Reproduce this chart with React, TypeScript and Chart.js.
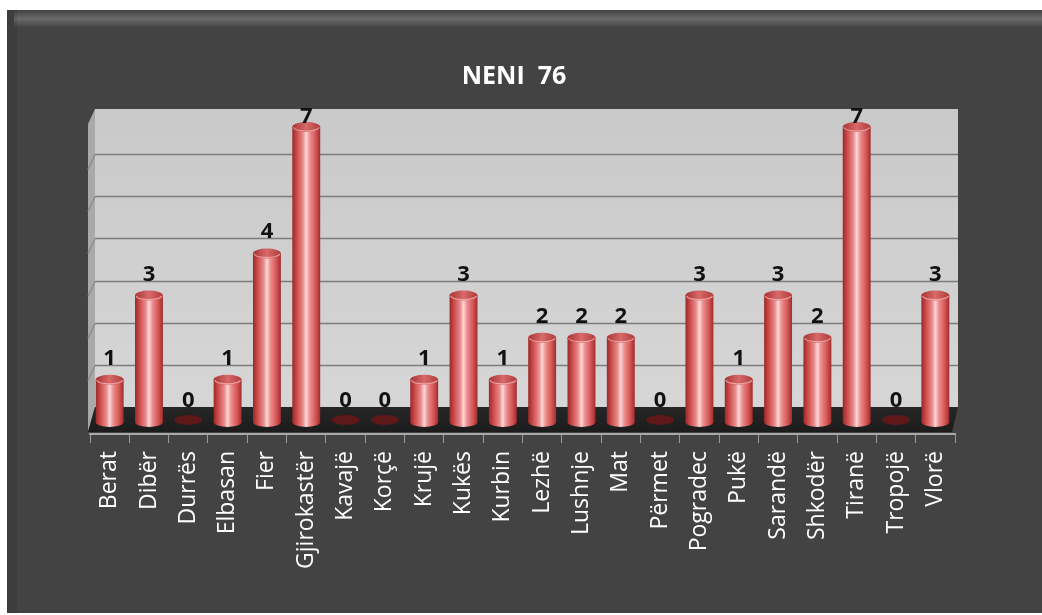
import React, { useEffect, useRef } from 'react';
import { Chart, registerables } from 'chart.js';

Chart.register(...registerables);

const categories = ['Berat', 'Dibër', 'Durrës', 'Elbasan', 'Fier', 'Gjirokastër', 'Kavajë', 'Korçë', 'Krujë', 'Kukës', 'Kurbin', 'Lezhë', 'Lushnje', 'Mat', 'Përmet', 'Pogradec', 'Pukë', 'Sarandë', 'Shkodër', 'Tiranë', 'Tropojë', 'Vlorë'];
const values = [1, 3, 0, 1, 4, 7, 0, 0, 1, 3, 1, 2, 2, 2, 0, 3, 1, 3, 2, 7, 0, 3];
const gridValues = [1, 2, 3, 4, 5, 6];
const chartTitle = 'NENI  76';

const W = 1042;
const H = 615;
const DEPTH_X = 7;
const DEPTH_Y = 15;
const CAP_RY = 5;

function bodyGradient(ctx: CanvasRenderingContext2D, cx: number, w: number) {
  const g = ctx.createLinearGradient(cx - w / 2, 0, cx + w / 2, 0);
  g.addColorStop(0, '#9a2828');
  g.addColorStop(0.15, '#c94848');
  g.addColorStop(0.38, '#ea8a8a');
  g.addColorStop(0.5, '#fbd8d8');
  g.addColorStop(0.62, '#ee9090');
  g.addColorStop(0.85, '#d25252');
  g.addColorStop(1, '#9e2c2c');
  return g;
}

const backgroundPlugin = {
  id: 'bg3d',
  beforeDraw(chart: any) {
    const ctx: CanvasRenderingContext2D = chart.ctx;
    const { left, right, bottom } = chart.chartArea;
    const ys = chart.scales.y;
    ctx.save();
    ctx.fillStyle = '#ffffff';
    ctx.fillRect(0, 0, W, H);
    // dark panel
    ctx.fillStyle = '#434343';
    ctx.fillRect(7, 10, W - 7, 603);
    // top bevel
    const bev = ctx.createLinearGradient(0, 11, 0, 27);
    bev.addColorStop(0, '#474747');
    bev.addColorStop(0.5, '#6a6a6a');
    bev.addColorStop(1, '#454545');
    ctx.fillStyle = bev;
    ctx.fillRect(14, 11, W - 14, 16);
    // left darker strip
    ctx.fillStyle = 'rgba(0,0,0,0.08)';
    ctx.fillRect(7, 10, 10, 603);

    const zeroY = ys.getPixelForValue(0);
    const backFloorY = zeroY - DEPTH_Y;
    const frontFloorY = bottom - 2;
    const wallTop = ys.getPixelForValue(7) - 18;
    const fl = left - 2;
    const wl = fl + DEPTH_X;
    const wr = right + 3;

    // back wall
    const wg = ctx.createLinearGradient(0, wallTop, 0, backFloorY);
    wg.addColorStop(0, '#c9c9c9');
    wg.addColorStop(1, '#d6d6d6');
    ctx.fillStyle = wg;
    ctx.fillRect(wl, wallTop, wr - wl, backFloorY - wallTop);

    // left wall
    ctx.fillStyle = '#a9a9a9';
    ctx.beginPath();
    ctx.moveTo(fl, frontFloorY);
    ctx.lineTo(fl, wallTop + DEPTH_Y);
    ctx.lineTo(wl, wallTop);
    ctx.lineTo(wl, backFloorY);
    ctx.closePath();
    ctx.fill();

    // gridlines
    ctx.lineWidth = 1.5;
    gridValues.forEach((v) => {
      const y = Math.round(ys.getPixelForValue(v) - DEPTH_Y) + 0.5;
      ctx.strokeStyle = '#7c7c7c';
      ctx.beginPath();
      ctx.moveTo(wl, y);
      ctx.lineTo(wr, y);
      ctx.stroke();
      ctx.strokeStyle = '#8e8e8e';
      ctx.beginPath();
      ctx.moveTo(fl, y + DEPTH_Y);
      ctx.lineTo(wl, y);
      ctx.stroke();
    });

    // floor
    const fg = ctx.createLinearGradient(0, backFloorY, 0, frontFloorY);
    fg.addColorStop(0, '#262626');
    fg.addColorStop(1, '#1c1c1c');
    ctx.fillStyle = fg;
    ctx.beginPath();
    ctx.moveTo(fl, frontFloorY);
    ctx.lineTo(right - 3, frontFloorY);
    ctx.lineTo(wr, backFloorY);
    ctx.lineTo(wl, backFloorY);
    ctx.closePath();
    ctx.fill();

    // title
    ctx.fillStyle = '#ffffff';
    ctx.font = 'bold 25px "Open Sans"';
    ctx.textAlign = 'center';
    ctx.textBaseline = 'alphabetic';
    ctx.fillText(chartTitle, 514, 84);
    ctx.restore();
  },
  afterDatasetsDraw(chart: any) {
    const ctx: CanvasRenderingContext2D = chart.ctx;
    const meta = chart.getDatasetMeta(0);
    const top = chart.chartArea.top;
    ctx.save();
    meta.data.forEach((el: any, i: number) => {
      const p = el.getProps(['x', 'y', 'base', 'width'], true);
      const rx = p.width / 2;
      if (values[i] === 0) {
        ctx.fillStyle = '#5e1818';
        ctx.beginPath();
        ctx.ellipse(p.x, p.base - 2, rx, CAP_RY, 0, 0, Math.PI * 2);
        ctx.fill();
      } else {
        ctx.fillStyle = bodyGradient(ctx, p.x, p.width);
        ctx.beginPath();
        ctx.ellipse(p.x, p.base, rx, CAP_RY, 0, 0, Math.PI * 2);
        ctx.fill();
        const cg = ctx.createLinearGradient(p.x - rx, 0, p.x + rx, 0);
        cg.addColorStop(0, '#a83434');
        cg.addColorStop(0.5, '#d86a6a');
        cg.addColorStop(1, '#b03a3a');
        ctx.fillStyle = cg;
        ctx.beginPath();
        ctx.ellipse(p.x, p.y, rx, CAP_RY, 0, 0, Math.PI * 2);
        ctx.fill();
        ctx.strokeStyle = 'rgba(255,190,190,0.7)';
        ctx.lineWidth = 1.2;
        ctx.beginPath();
        ctx.ellipse(p.x, p.y, rx - 1, CAP_RY - 1, 0, 0.1, Math.PI - 0.1);
        ctx.stroke();
      }
      // value label
      ctx.fillStyle = '#111111';
      ctx.font = 'bold 22px "Open Sans"';
      ctx.textAlign = 'center';
      ctx.textBaseline = 'alphabetic';
      const ly = Math.max(p.y - 15, top - 4);
      ctx.fillText(String(values[i]), p.x, ly);
    });
    ctx.restore();
  },
};

export default function App() {
  const ref = useRef<HTMLCanvasElement | null>(null);
  useEffect(() => {
    if (!ref.current) return;
    const chart = new Chart(ref.current, {
      type: 'bar',
      data: {
        labels: categories,
        datasets: [
          {
            data: values,
            barPercentage: 0.71,
            categoryPercentage: 1,
            borderWidth: 0,
            backgroundColor: (c: any) => {
              const ch = c.chart;
              if (!ch.chartArea || !ch.scales.x) return '#d05050';
              const xs = ch.scales.x;
              const cx = xs.getPixelForValue(c.dataIndex);
              const w = ((ch.chartArea.right - ch.chartArea.left) / categories.length) * 0.71;
              return bodyGradient(ch.ctx, cx, w);
            },
          },
        ],
      },
      options: {
        responsive: false,
        animation: false,
        layout: { padding: { top: 127, left: 90, right: 87, bottom: 0 } },
        plugins: {
          legend: { display: false },
          tooltip: { enabled: false },
          title: { display: false },
        },
        scales: {
          y: {
            display: false,
            min: -0.285,
            max: 7,
          },
          x: {
            afterFit: (scale: any) => {
              scale.height = 181;
            },
            grid: {
              display: true,
              drawOnChartArea: false,
              drawTicks: true,
              tickLength: 9,
              color: '#9a9a9a',
              lineWidth: 1,
              offset: true,
            },
            border: { display: true, color: '#a8a8a8', width: 2 },
            ticks: {
              color: '#ffffff',
              font: { family: '"Open Sans"', size: 23 },
              maxRotation: 90,
              minRotation: 90,
              padding: 8,
              autoSkip: false,
            },
          },
        },
      },
      plugins: [backgroundPlugin],
    });
    return () => chart.destroy();
  }, []);
  return (
    <div style={{ position: 'fixed', left: 0, top: 0, width: W, height: H, background: '#fff' }}>
      <canvas ref={ref} width={W} height={H} style={{ display: 'block', width: W, height: H }} />
    </div>
  );
}
